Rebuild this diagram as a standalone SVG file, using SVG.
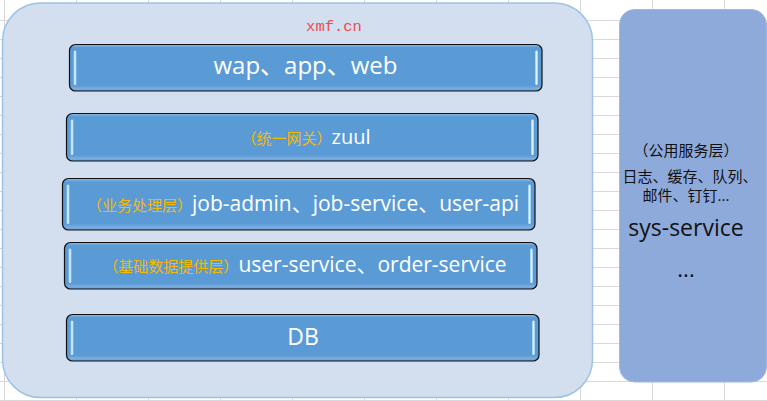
<svg xmlns="http://www.w3.org/2000/svg" width="767" height="401" viewBox="0 0 767 401">
<defs>
<linearGradient id="barFill" x1="0" y1="0" x2="0" y2="1">
<stop offset="0" stop-color="#8AB8E5"/>
<stop offset="0.07" stop-color="#5B9BD5"/>
<stop offset="0.88" stop-color="#5B9BD5"/>
<stop offset="0.95" stop-color="#7BAEE0"/>
<stop offset="1" stop-color="#5F99D0"/>
</linearGradient>
<linearGradient id="hl" x1="0" y1="0" x2="1" y2="0">
<stop offset="0" stop-color="#8EC6F0"/>
<stop offset="0.5" stop-color="#E2F3FF"/>
<stop offset="1" stop-color="#8EC6F0"/>
</linearGradient>
<style>
.grid{stroke:#D9D9D9;stroke-width:1;fill:none}
.outer{fill:#D3DEEF;stroke:#9DC3E6;stroke-width:1.5}
.side{fill:#8EAADB;stroke:#9FB9E4;stroke-width:1}
.bar{fill:url(#barFill);stroke:#111;stroke-width:1.2}
.hl{fill:url(#hl)}
.t{font-family:"Open Sans","Noto Sans CJK SC",sans-serif}
.w{fill:#FFFFFF}
.o{fill:#F5B800}
.k{fill:#111111}
.red{font-family:"Liberation Mono",monospace;fill:#EE4B52;font-size:15.5px}
</style>
</defs>
<g id="background">
<rect width="767" height="401" fill="#FFFFFF"/>
<path class="grid" d="M0 20.5H767M0 39.5H767M0 58.5H767M0 77.5H767M0 96.5H767M0 115.5H767M0 134.5H767M0 153.5H767M0 172.5H767M0 191.5H767M0 210.5H767M0 229.5H767M0 248.5H767M0 267.5H767M0 286.5H767M0 305.5H767M0 324.5H767M0 343.5H767M0 362.5H767M0 381.5H767M0 400.5H767M4.5 0V401M76.5 0V401M148.5 0V401M220.5 0V401M292.5 0V401M364.5 0V401M436.5 0V401M508.5 0V401M580.5 0V401M652.5 0V401M724.5 0V401"/>
</g>
<g id="platform">
<rect class="outer" x="2.5" y="3" width="590" height="394.5" rx="38" ry="38"/>
<text class="red" x="334" y="30.5" text-anchor="middle">xmf.cn</text>
</g>
<g id="common-service">
<rect class="side" x="619.5" y="9.5" width="147" height="372.5" rx="15" ry="15"/>
<text class="t k" x="686" y="156" text-anchor="middle" font-size="15">（公用服务层）</text>
<text class="t k" x="690" y="182" text-anchor="middle" font-size="15">日志、缓存、队列、</text>
<text class="t k" x="686" y="201" text-anchor="middle" font-size="15">邮件、钉钉...</text>
<text class="t k" x="686" y="236" text-anchor="middle" font-size="23">sys-service</text>
<text class="t k" x="686" y="277" text-anchor="middle" font-size="22">...</text>
</g>
<g id="client-layer">
<rect class="bar" x="69.5" y="44.5" width="472.5" height="46.5" rx="6" ry="6"/>
<rect class="hl" x="73.5" y="50.5" width="3" height="34.5" rx="1.5"/>
<rect class="hl" x="535" y="50.5" width="3" height="34.5" rx="1.5"/>
<text class="t w" x="305.5" y="74" text-anchor="middle" font-size="24">wap、app、web</text>
</g>
<g id="gateway-layer">
<rect class="bar" x="66.5" y="113.5" width="471.5" height="47.5" rx="6" ry="6"/>
<rect class="hl" x="70.5" y="119.5" width="3" height="35.5" rx="1.5"/>
<rect class="hl" x="531" y="119.5" width="3" height="35.5" rx="1.5"/>
<text class="t w" x="306" y="144" text-anchor="middle" font-size="20"><tspan class="o" font-size="15">（统一网关）</tspan>zuul</text>
</g>
<g id="business-layer">
<rect class="bar" x="62.5" y="178.5" width="472.5" height="51.5" rx="6" ry="6"/>
<rect class="hl" x="66.5" y="184.5" width="3" height="39.5" rx="1.5"/>
<rect class="hl" x="528" y="184.5" width="3" height="39.5" rx="1.5"/>
<text class="t w" x="303" y="211" text-anchor="middle" font-size="21"><tspan class="o" font-size="15">（业务处理层）</tspan>job-admin、job-service、user-api</text>
</g>
<g id="data-layer">
<rect class="bar" x="64.5" y="242.5" width="472.5" height="46.5" rx="6" ry="6"/>
<rect class="hl" x="68.5" y="248.5" width="3" height="34.5" rx="1.5"/>
<rect class="hl" x="530" y="248.5" width="3" height="34.5" rx="1.5"/>
<text class="t w" x="305" y="272" text-anchor="middle" font-size="21"><tspan class="o" font-size="15">（基础数据提供层）</tspan>user-service、order-service</text>
</g>
<g id="db-layer">
<rect class="bar" x="66.5" y="314.5" width="472.5" height="46.5" rx="6" ry="6"/>
<rect class="hl" x="70.5" y="320.5" width="3" height="34.5" rx="1.5"/>
<rect class="hl" x="532" y="320.5" width="3" height="34.5" rx="1.5"/>
<text class="t w" x="303" y="345" text-anchor="middle" font-size="23">DB</text>
</g>
<g id="connectors"/>
</svg>
